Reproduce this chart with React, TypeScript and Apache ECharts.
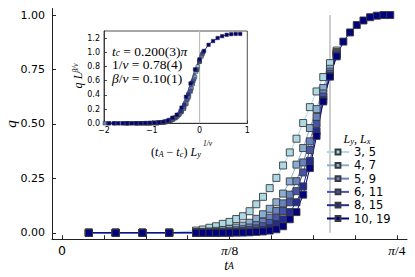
import React, { useEffect, useRef } from "react";
import * as echarts from "echarts";

// t_A in units of pi
const tA = [0.02, 0.04, 0.06, 0.08, 0.1, 0.105, 0.11, 0.115, 0.12, 0.125, 0.13, 0.135, 0.14, 0.145, 0.15, 0.155, 0.16, 0.165, 0.17, 0.175, 0.18, 0.185, 0.19, 0.195, 0.2, 0.205];
const tAHigh = [0.21, 0.215, 0.22, 0.225, 0.23, 0.235, 0.24, 0.245];

const legendLabels = ["3, 5", "4, 7", "5, 9", "6, 11", "8, 15", "10, 19"];
const Ly = [3, 4, 5, 6, 8, 10];

const q_3_5 = [0, 0, 0, 0, 0.01, 0.015, 0.023, 0.03, 0.041, 0.05, 0.063, 0.076, 0.099, 0.131, 0.165, 0.205, 0.252, 0.309, 0.369, 0.432, 0.504, 0.577, 0.649, 0.715, 0.779, 0.837];
const q_4_7 = [0, 0, 0, 0, 0.003, 0.004, 0.006, 0.009, 0.013, 0.018, 0.024, 0.033, 0.046, 0.064, 0.085, 0.11, 0.14, 0.18, 0.236, 0.313, 0.389, 0.481, 0.568, 0.665, 0.753, 0.83];
const q_5_9 = [0, 0, 0, 0, 0.001, 0.001, 0.002, 0.003, 0.005, 0.007, 0.011, 0.016, 0.024, 0.035, 0.05, 0.07, 0.1, 0.135, 0.175, 0.237, 0.323, 0.42, 0.532, 0.64, 0.74, 0.825];
const q_6_11 = [0, 0, 0, 0, 0, 0, 0.001, 0.001, 0.002, 0.003, 0.005, 0.008, 0.013, 0.02, 0.03, 0.045, 0.07, 0.1, 0.14, 0.191, 0.277, 0.38, 0.5, 0.625, 0.73, 0.82];
const q_8_15 = [0, 0, 0, 0, 0, 0, 0, 0, 0.001, 0.001, 0.002, 0.003, 0.005, 0.008, 0.013, 0.022, 0.04, 0.062, 0.095, 0.14, 0.213, 0.33, 0.465, 0.61, 0.72, 0.815];
const q_10_19 = [0, 0, 0, 0, 0, 0, 0, 0, 0, 0, 0.001, 0.001, 0.002, 0.004, 0.006, 0.01, 0.016, 0.03, 0.062, 0.095, 0.175, 0.297, 0.445, 0.603, 0.717, 0.81, 0.878, 0.92, 0.954, 0.975, 0.99, 0.997, 1.0, 1.0];

const colors = ["#add8e6", "#8aadd2", "#6882bd", "#4556a9", "#232b94", "#000080"];

const tc = 0.2; // in units of pi
const invNu = 0.78;
const betaNu = 0.1;

const xTicks = [0, 1 / 32, 2 / 32, 3 / 32, 4 / 32, 5 / 32, 6 / 32, 7 / 32, 8 / 32];
const xLabelValues = [0, 0.125, 0.25];
const xLabelTexts = ["{n|0}", "{p|π}{s|/8}", "{p|π}{s|/4}"];
const yTicks = [0, 0.25, 0.5, 0.75, 1];
const insetYTicks = [0, 0.2, 0.4, 0.6, 0.8, 1.0, 1.2];
const insetXTicks = [-2, -1, 0, 1];

const SANS = "'DejaVu Sans', sans-serif";
const SERIF = "'Liberation Serif', 'DejaVu Serif', serif";

export default function App() {
  const ref = useRef<HTMLDivElement>(null);
  useEffect(() => {
    if (!ref.current) return;
    const chart = echarts.init(ref.current, undefined, { renderer: "svg" });
    const qAll = [q_3_5, q_4_7, q_5_9, q_6_11, q_8_15, q_10_19];
    const tAll = tA.concat(tAHigh);

    const mainSeries: any[] = qAll.map((qs, k) => ({
      type: "line",
      name: legendLabels[k],
      xAxisIndex: 0,
      yAxisIndex: 0,
      data: qs.map((q, i) => [tAll[i], q]),
      symbol: "rect",
      symbolSize: 7,
      showAllSymbol: true,
      lineStyle: { color: colors[k], width: 1 },
      itemStyle: { color: colors[k], borderColor: "#3a3a3a", borderWidth: 0.9 },
      z: 3,
    }));
    const insetSeries: any[] = qAll.map((qs, k) => ({
      type: "line",
      name: legendLabels[k],
      xAxisIndex: 1,
      yAxisIndex: 1,
      data: qs.map((q, i) => [
        (tAll[i] - tc) * Math.PI * Math.pow(Ly[k], invNu),
        q * Math.pow(Ly[k], betaNu),
      ]),
      symbol: "rect",
      symbolSize: 3.5,
      showAllSymbol: true,
      clip: true,
      lineStyle: { color: colors[k], width: 0.8 },
      itemStyle: { color: colors[k], borderColor: "#3a3a3a", borderWidth: 0.5 },
      z: 5,
    }));
    const vline = {
      type: "line",
      xAxisIndex: 0,
      yAxisIndex: 0,
      data: [[tc, 0], [tc, 1]],
      showSymbol: false,
      symbol: "none",
      lineStyle: { color: "#bdbdbd", width: 1.5 },
      z: 2,
      silent: true,
    };
    const vlineInset = {
      type: "line",
      xAxisIndex: 1,
      yAxisIndex: 1,
      data: [[0, 0], [0, 1.3]],
      showSymbol: false,
      symbol: "none",
      lineStyle: { color: "#bdbdbd", width: 1.2 },
      z: 4,
      silent: true,
    };

    const rich = {
      i: { fontFamily: SERIF, fontStyle: "italic", fontSize: 14, lineHeight: 12 },
      r: { fontFamily: SERIF, fontSize: 14, lineHeight: 12 },
      sub: { fontFamily: SERIF, fontStyle: "italic", fontSize: 9.5, lineHeight: 6, verticalAlign: "bottom" },
    };
    const richSmall = {
      i: { fontFamily: SERIF, fontStyle: "italic", fontSize: 12, lineHeight: 13 },
      r: { fontFamily: SERIF, fontSize: 12, lineHeight: 13 },
      sub: { fontFamily: SERIF, fontStyle: "italic", fontSize: 8.5, lineHeight: 7, verticalAlign: "bottom" },
      sup: { fontFamily: SERIF, fontStyle: "italic", fontSize: 7.5, lineHeight: 7, verticalAlign: "top" },
    };
    const richNote = {
      i: { fontFamily: SERIF, fontStyle: "italic", fontSize: 13.5, lineHeight: 14 },
      r: { fontFamily: SERIF, fontSize: 13.5, lineHeight: 14 },
      sub: { fontFamily: SERIF, fontStyle: "italic", fontSize: 9.5, lineHeight: 8, verticalAlign: "bottom" },
    };

    chart.setOption({
      animation: false,
      backgroundColor: "#fff",
      grid: [
        { left: 52, top: 8.5, width: 355, height: 230.8, containLabel: false },
        {
          left: 104, top: 31, width: 143.3, height: 92.3, show: true,
          backgroundColor: "#fff", borderColor: "#222", borderWidth: 0.8, z: 4,
        },
      ],
      xAxis: [
        {
          type: "value", gridIndex: 0, min: -0.0075, max: 0.2575,
          splitLine: { show: false },
          axisLine: { show: true, onZero: false, lineStyle: { color: "#222", width: 1 } },
          axisTick: { show: true, inside: true, length: 4, customValues: xTicks, lineStyle: { color: "#222" } },
          axisLabel: {
            customValues: xLabelValues, margin: 5, color: "#000",
            formatter: (v: number) => {
              const idx = xLabelValues.findIndex((x) => Math.abs(x - v) < 1e-9);
              return idx >= 0 ? xLabelTexts[idx] : "";
            },
            rich: {
              n: { fontFamily: SANS, fontSize: 12.5, color: "#000", lineHeight: 12 },
              p: { fontFamily: SERIF, fontStyle: "italic", fontSize: 13.5, color: "#000", lineHeight: 12 },
              s: { fontFamily: SERIF, fontSize: 13.5, color: "#000", lineHeight: 12 },
            },
          },
        },
        {
          type: "value", gridIndex: 1, min: -2, max: 1,
          splitLine: { show: false },
          axisLine: { show: true, onZero: false, lineStyle: { color: "#222", width: 0.8 } },
          axisTick: { show: true, inside: true, length: 3, customValues: insetXTicks, lineStyle: { color: "#222", width: 0.8 } },
          axisLabel: {
            customValues: insetXTicks, margin: 3, color: "#000", fontFamily: SANS, fontSize: 8,
            formatter: (v: number) => (v < 0 ? "−" + Math.abs(v) : String(v)),
          },
          z: 4,
        },
      ],
      yAxis: [
        {
          type: "value", gridIndex: 0, min: -0.03, max: 1.03,
          splitLine: { show: false },
          axisLine: { show: true, onZero: false, lineStyle: { color: "#222", width: 1 } },
          axisTick: { show: true, inside: true, length: 4, customValues: yTicks, lineStyle: { color: "#222" } },
          axisLabel: {
            customValues: yTicks, margin: 7, color: "#000", fontFamily: SANS, fontSize: 11,
            formatter: (v: number) => v.toFixed(2),
          },
        },
        {
          type: "value", gridIndex: 1, min: 0, max: 1.3,
          splitLine: { show: false },
          axisLine: { show: true, onZero: false, lineStyle: { color: "#222", width: 0.8 } },
          axisTick: { show: true, inside: true, length: 3, customValues: insetYTicks, lineStyle: { color: "#222", width: 0.8 } },
          axisLabel: {
            customValues: insetYTicks, margin: 4, color: "#000", fontFamily: SANS, fontSize: 8,
            formatter: (v: number) => v.toFixed(1),
          },
          z: 4,
        },
      ],
      legend: {
        data: legendLabels,
        orient: "vertical",
        left: 326,
        top: 146,
        padding: 0,
        itemWidth: 22,
        itemHeight: 6,
        itemGap: 1.3,
        textStyle: { fontFamily: SANS, fontSize: 11.5, color: "#000", lineHeight: 12 },
        selectedMode: false,
      },
      graphic: [
        {
          type: "text", x: 11, y: 124, rotation: Math.PI / 2,
          style: { text: "q", font: `italic 15px ${SERIF}`, fill: "#000", align: "center", verticalAlign: "middle" },
        },
        {
          type: "text", x: 229, y: 265,
          style: { text: "{i|t}{sub|A}", rich, fill: "#000", align: "center", verticalAlign: "middle" },
        },
        {
          type: "text", x: 357, y: 139,
          style: { text: "{i|L}{sub|y}{r|, }{i|L}{sub|x}", rich: richSmall, fill: "#000", align: "center", verticalAlign: "middle" },
        },
        {
          type: "text", x: 78, y: 76, rotation: Math.PI / 2, z: 10,
          style: { text: "{i|q} {i|L}{sup|β/ν}", rich: richSmall, fill: "#000", align: "center", verticalAlign: "middle" },
        },
        {
          type: "text", x: 176, y: 152, z: 10,
          style: { text: "{r|(}{i|t}{sub|A}{r| − }{i|t}{sub|c}{r|) }{i|L}{sub|y}", rich: richSmall, fill: "#000", align: "center", verticalAlign: "middle" },
        },
        {
          type: "text", x: 203, y: 143, z: 10,
          style: { text: "1/ν", font: `italic 7.5px ${SERIF}`, fill: "#000", align: "left", verticalAlign: "middle" },
        },
        {
          type: "text", x: 112, y: 51, z: 10,
          style: { text: "{i|t}{sub|c}{r| = 0.200(3)}{i|π}", rich: richNote, fill: "#000", align: "left", verticalAlign: "middle" },
        },
        {
          type: "text", x: 112, y: 64.5, z: 10,
          style: { text: "{r|1/}{i|ν}{r| = 0.78(4)}", rich: richNote, fill: "#000", align: "left", verticalAlign: "middle" },
        },
        {
          type: "text", x: 112, y: 78, z: 10,
          style: { text: "{i|β}{r|/}{i|ν}{r| = 0.10(1)}", rich: richNote, fill: "#000", align: "left", verticalAlign: "middle" },
        },
      ],
      series: [vline, ...mainSeries, vlineInset, ...insetSeries],
    });
    return () => chart.dispose();
  }, []);
  return <div ref={ref} style={{ position: "fixed", left: 0, top: 0, width: 415, height: 277 }} />;
}
